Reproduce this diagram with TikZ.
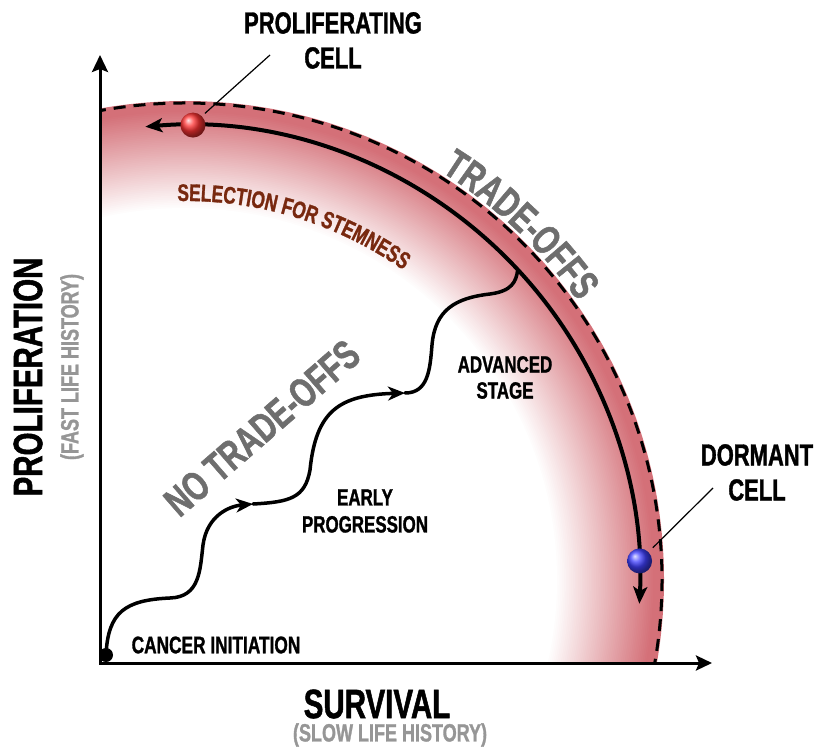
\documentclass[tikz,border=0pt]{standalone}
\usepackage{fontspec}
\setmainfont{Liberation Sans}[FakeStretch=0.72,FakeBold=1.2]
\usetikzlibrary{arrows.meta,calc,decorations.text}
\definecolor{bandred}{RGB}{212,112,120}
\definecolor{tradegray}{RGB}{110,110,110}
\definecolor{histgray}{RGB}{150,150,150}
\definecolor{stembrown}{RGB}{120,40,15}
\newcommand\fsz[2]{\fontsize{#1}{#2}\selectfont\bfseries}

\begin{document}
\begin{tikzpicture}[x=1pt,y=1pt,
        every node/.style={inner sep=0pt},
        axis/.style={line width=3pt},
        trail/.style={line width=4pt},
        wavy/.style={line width=3.5pt, line cap=round},
        outerline/.style={line width=3pt, dash pattern=on 12pt off 8pt},
        pointer/.style={line width=1.2pt},
        cell/.style={circle, minimum size=25pt, shading=ball}]
        \useasboundingbox (0,0) rectangle (818,748);
        \coordinate (O) at (100,85);
        \coordinate (C) at (185,168);
        \coordinate (ytip) at (100,693);
        \coordinate (xtip) at (712,85);
        % gradient band
        \begin{scope}
        \clip (O) rectangle (818,748);
        \foreach \i in {0,...,60} {
                \pgfmathsetmacro\rr{479-\i*107/60}
                \pgfmathsetmacro\pp{min(100,max(0,(\rr-372)/(470-372)*100))}
                \fill[bandred!\pp!white] (C) circle (\rr);
        }
        \fill[white] (C) circle (372);
        \draw[outerline] (C) ++(101:477) arc[start angle=101, end angle=-11, radius=477];
        \end{scope}
        % axes
        \draw[axis, {Stealth[length=17pt,width=16pt,inset=3pt]}-{Stealth[length=16pt,width=15pt,inset=3pt]}] (ytip) |- (xtip);
        % trade-off arc
        \draw[trail, {Stealth[length=17pt,width=14pt,inset=4pt]}-{Stealth[length=17pt,width=14pt,inset=4pt]}]
                (C) ++(95:455) arc[start angle=95, end angle=-3, radius=455];
        \coordinate (junction) at ($(C)+(43:455)$);
        \coordinate (e1) at (253,244);
        \coordinate (e2) at (405,355);
        \fill (106,93) circle (7) coordinate (init);
        \draw[wavy, -{Stealth[length=17pt,width=14pt,inset=5pt]}] (init) .. controls (108,136) and (125,148) .. (170,150)
                .. controls (200,151) and (200,178) .. (203,203) .. controls (207,233) and (230,242) .. (e1);
        \draw[wavy, -{Stealth[length=17pt,width=14pt,inset=5pt]}] (e1) .. controls (290,246) and (305,250) .. (310,278)
                .. controls (316,338) and (340,353) .. (e2);
        \draw[wavy] (e2) .. controls (428,355) and (430,378) .. (432,403)
                .. controls (435,438) and (455,450) .. (490,454) .. controls (512,457) and (516,466) .. (junction);
        % cells
        \node[cell, ball color=red!80!white] (redcell) at ($(C)+(89:455)$) {};
        \node[cell, ball color=blue!75!white] (bluecell) at ($(C)+(2.4:455)$) {};
        \node[align=center, font=\fsz{30.5}{35}] (prolabel) at (333,707.5) {PROLIFERATING\\CELL};
        \node[align=center, font=\fsz{30.5}{35}] (dormlabel) at (757,275.5) {DORMANT\\CELL};
        \coordinate (proend) at (270,693);
        \coordinate (dormend) at (713,260);
        \draw[pointer, shorten >=4pt] (proend) -- (redcell.north east);
        \draw[pointer, shorten >=6pt] (dormend) -- (bluecell.north east);
        % stage labels
        \node[align=center, font=\fsz{23.5}{26}] (advlabel) at (505,370.5) {ADVANCED\\STAGE};
        \node[align=center, font=\fsz{23.5}{27}] (earlylabel) at (365,237) {EARLY\\PROGRESSION};
        \node[font=\fsz{24}{24}] (initlabel) at (216,103) {CANCER INITIATION};
        \node[font=\fsz{41}{41}, text=tradegray, rotate=41] (notrade) at (262,320) {NO TRADE-OFFS};
        \path[decorate, decoration={text along path, text align=center,
                text={|\color{tradegray}\fsz{41}{41}|TRADE-OFFS}}]
                (C) ++(76.6:482) arc[start angle=76.6, end angle=16.6, radius=482];
        \path[decorate, decoration={text along path, text align=center,
                text={|\color{stembrown}\fsz{24}{24}|SELECTION FOR STEMNESS}}]
                (C) ++(113:379) arc[start angle=113, end angle=33, radius=379];
        % axis labels
        \node[font=\fsz{41}{41}, rotate=90] (ylabel) at (28,371) {PROLIFERATION};
        \node[font=\fsz{25}{25}, text=histgray, rotate=90] (yhist) at (72,381) {(FAST LIFE HISTORY)};
        \node[font=\fsz{41}{41}] (xlabel) at (377,44) {SURVIVAL};
        \node[font=\fsz{25}{25}, text=histgray] (xhist) at (390,13) {(SLOW LIFE HISTORY)};
\end{tikzpicture}
\end{document}
